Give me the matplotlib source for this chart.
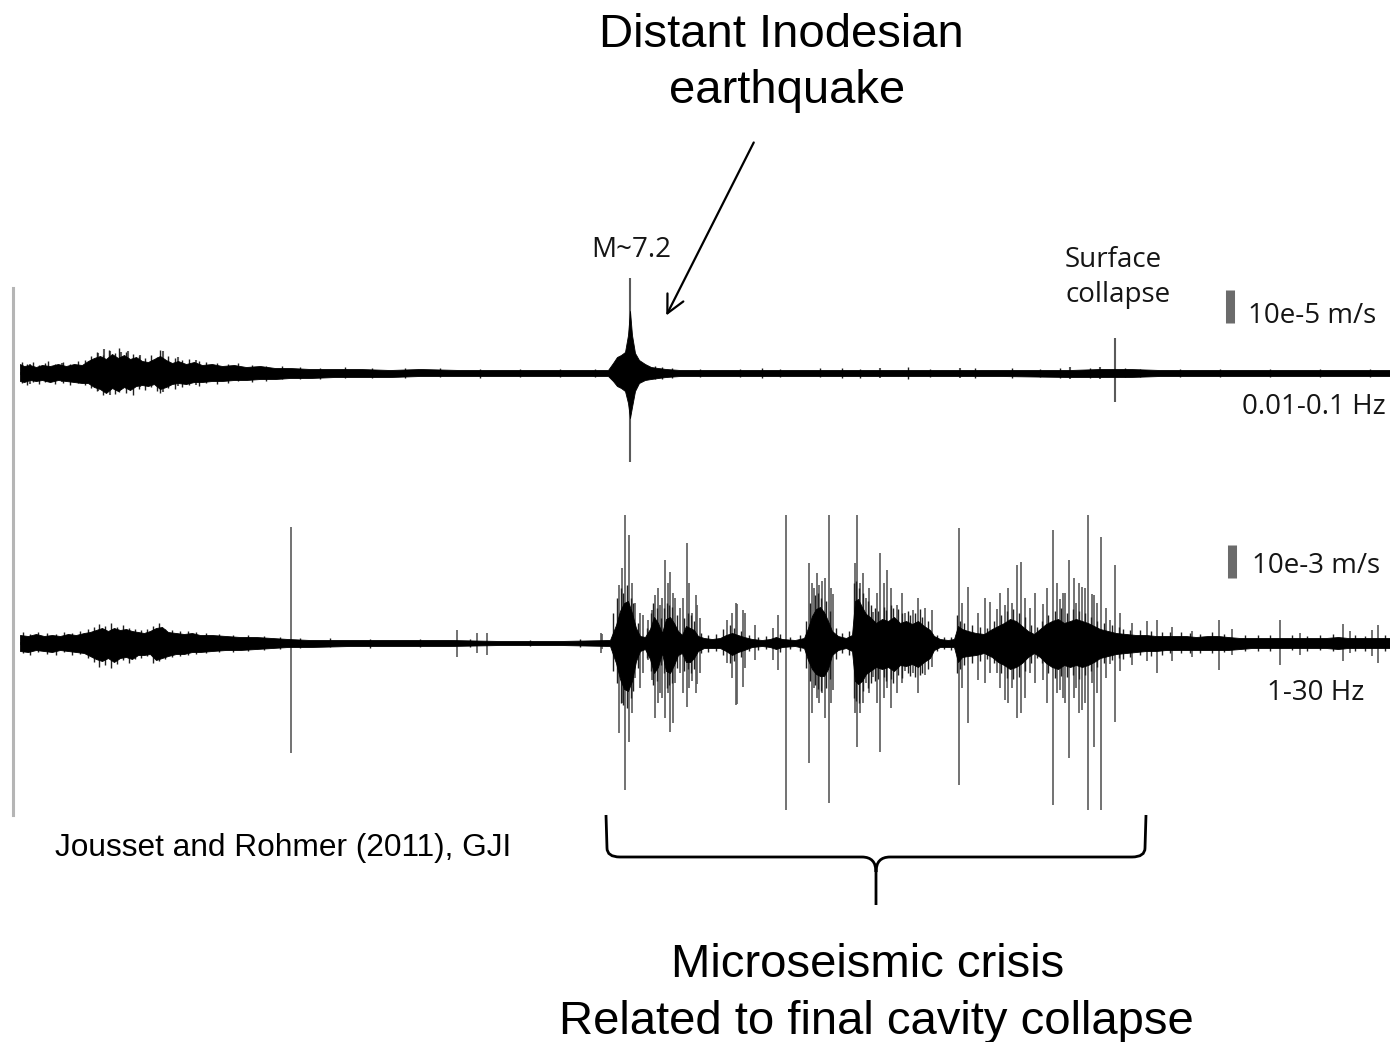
"""
Two-band seismogram (long period / short period) around the final cavity
collapse, with the teleseismic M~7.2 arrival and the microseismic crisis.
"""
import numpy as np
import matplotlib
matplotlib.use("Agg")
import matplotlib.pyplot as plt
from matplotlib.path import Path
from matplotlib.patches import PathPatch

W, H = 1390, 1042
BIG_FONT = ["Liberation Sans", "DejaVu Sans"]
SMALL_FONT = ["Open Sans", "DejaVu Sans"]
LABEL_COLOR = "#151515"
TRACE_GREY = "#5a5a5a"
BAR_GREY = "#6b6b6b"

# ---- 0.01-0.1 Hz band: envelope (t, up, down) in counts, events (t, up, down)
top_env = [
    (20, 9, 8), (24, 7, 9), (30, 8, 7), (36, 6, 8), (42, 8, 7), (50, 7, 9),
    (58, 9, 7), (66, 7, 8), (74, 9, 9), (82, 8, 10), (88, 12, 10), (94, 15, 14),
    (100, 17, 16), (106, 14, 20), (112, 19, 15), (118, 15, 18), (124, 18, 14),
    (130, 14, 17), (136, 16, 13), (142, 12, 12), (148, 11, 13), (154, 14, 11),
    (160, 17, 16), (166, 13, 14), (172, 10, 11), (178, 12, 10), (186, 9, 11),
    (194, 11, 9), (202, 8, 9), (212, 9, 8), (222, 7, 8), (234, 8, 7), (246, 6, 7),
    (260, 7, 6), (275, 5, 6), (290, 5, 5), (310, 4, 5), (335, 4, 4), (360, 4, 4),
    (390, 3, 4), (420, 4, 3), (460, 3, 3), (500, 3, 3), (540, 3, 3), (580, 3, 3),
    (608, 3, 3), (613, 10, 8), (617, 16, 13), (621, 18, 15), (625, 21, 18),
    (628, 38, 30), (630, 62, 45), (632, 38, 34), (635, 20, 18), (639, 13, 10),
    (645, 9, 7), (651, 6, 6), (658, 5, 5), (666, 4, 4), (680, 3, 3), (720, 3, 3),
    (800, 3, 3), (900, 3, 3), (1000, 3, 3), (1070, 3, 4), (1100, 4, 4),
    (1130, 4, 4), (1160, 3, 3), (1200, 3, 3), (1250, 3, 3), (1300, 3, 3),
    (1350, 3, 3), (1390, 3, 3),
]
top_spikes = [
    (630, 95, 89), (1115, 35, 29), (98, 20, 18), (104, 24, 16), (110, 22, 22),
    (121, 21, 17), (128, 22, 15), (140, 18, 14), (163, 22, 19), (178, 16, 13),
    (196, 13, 12), (30, 9, 11), (62, 10, 9), (1070, 6, 6), (1100, 6, 6),
    (960, 5, 5), (880, 5, 5),
]
top_texture = [
    (22, 11, 10), (27, 9, 12), (33, 11, 9), (39, 8, 11), (45, 10, 9), (48, 12, 8),
    (55, 9, 11), (63, 11, 10), (70, 9, 12), (78, 12, 10), (85, 13, 12),
    (91, 17, 15), (97, 21, 18), (103, 18, 22), (109, 23, 17), (115, 20, 21),
    (119, 25, 19), (126, 21, 20), (133, 19, 22), (139, 17, 16), (145, 15, 17),
    (151, 18, 14), (157, 16, 18), (160, 23, 20), (168, 17, 15), (175, 15, 16),
    (182, 13, 14), (189, 14, 12), (199, 12, 13), (206, 11, 10), (217, 10, 11),
    (228, 9, 10), (238, 10, 8), (252, 8, 9), (266, 7, 8), (282, 7, 6),
    (300, 6, 6), (320, 5, 6), (345, 6, 5), (372, 5, 5), (405, 5, 5), (440, 5, 4),
    (480, 4, 5), (520, 4, 4), (560, 4, 4), (595, 4, 4), (655, 7, 6), (662, 6, 6),
    (672, 5, 5), (700, 4, 4), (740, 4, 4), (762, 5, 5), (780, 4, 4), (820, 5, 4),
    (842, 5, 5), (860, 4, 5), (908, 6, 6), (930, 4, 4), (975, 5, 5), (1012, 5, 5),
    (1040, 4, 4), (1060, 5, 5), (1090, 5, 5), (1125, 5, 4), (1140, 4, 4),
    (1180, 4, 4), (1220, 4, 4), (1270, 4, 4), (1320, 4, 4), (1370, 4, 4),
]

# ---- 1-30 Hz band
bottom_env = [
    (20, 8, 8), (28, 7, 9), (36, 9, 7), (44, 7, 8), (52, 8, 9), (60, 7, 7),
    (68, 9, 8), (76, 8, 9), (84, 10, 10), (90, 11, 13), (96, 13, 16),
    (102, 15, 18), (108, 12, 15), (114, 15, 19), (120, 13, 15), (126, 14, 14),
    (132, 12, 16), (138, 11, 12), (144, 10, 12), (150, 12, 11), (156, 15, 17),
    (162, 16, 15), (168, 11, 13), (176, 10, 11), (184, 9, 11), (192, 10, 9),
    (200, 8, 9), (212, 8, 8), (226, 7, 7), (240, 6, 7), (256, 6, 6), (272, 5, 5),
    (288, 4, 4), (310, 3, 4), (350, 3, 3), (400, 3, 3), (450, 3, 3), (500, 2, 2),
    (560, 2, 2), (610, 3, 3),
    (616, 18, 20), (620, 32, 36), (624, 40, 46), (628, 42, 48), (632, 30, 38),
    (636, 15, 18), (640, 7, 8), (645, 6, 6), (650, 14, 16), (654, 26, 30),
    (658, 20, 24), (662, 10, 10), (666, 24, 28), (670, 26, 30), (674, 20, 22),
    (678, 12, 12), (682, 8, 10), (686, 17, 19), (690, 15, 19), (694, 13, 15),
    (698, 7, 8), (704, 5, 5), (712, 4, 5), (720, 5, 5), (726, 8, 8),
    (732, 10, 12), (738, 8, 9), (744, 6, 7), (752, 4, 4), (762, 3, 3),
    (770, 4, 4), (776, 6, 6), (782, 4, 4), (795, 3, 3), (804, 5, 5),
    (808, 15, 17), (812, 27, 26), (816, 34, 31), (820, 36, 33), (824, 31, 33),
    (828, 22, 26), (832, 12, 12), (838, 7, 7), (846, 5, 5), (852, 8, 8),
    (855, 42, 38), (858, 44, 41), (862, 36, 38), (866, 29, 31), (870, 26, 28),
    (876, 20, 24), (882, 24, 26), (888, 22, 24), (894, 26, 28), (900, 20, 22),
    (906, 22, 23), (912, 19, 21), (918, 22, 24), (924, 17, 19), (930, 13, 15),
    (934, 7, 7), (940, 4, 4), (948, 3, 4), (954, 4, 4), (958, 17, 19),
    (962, 14, 14), (968, 12, 13), (976, 10, 12), (984, 9, 10), (992, 14, 14),
    (998, 17, 19), (1004, 20, 22), (1010, 24, 26), (1016, 22, 24),
    (1022, 17, 20), (1028, 12, 14), (1034, 9, 10), (1040, 14, 14),
    (1046, 19, 20), (1052, 22, 24), (1058, 24, 26), (1064, 20, 22),
    (1070, 22, 24), (1076, 24, 22), (1082, 22, 24), (1088, 20, 22),
    (1094, 17, 19), (1100, 14, 15), (1108, 12, 13), (1116, 10, 11),
    (1126, 9, 10), (1136, 8, 9), (1146, 8, 8), (1156, 7, 8), (1166, 7, 7),
    (1176, 7, 7), (1186, 7, 7), (1196, 6, 7), (1208, 7, 7), (1218, 7, 7),
    (1228, 6, 7), (1240, 5, 6), (1252, 5, 5), (1264, 5, 5), (1276, 5, 5),
    (1288, 5, 5), (1300, 5, 5), (1314, 5, 5), (1326, 5, 5), (1338, 6, 6),
    (1348, 5, 5), (1360, 5, 5), (1372, 5, 5), (1390, 5, 5),
]
bottom_spikes = [
    (291, 116, 110), (457, 13, 14), (477, 10, 10), (487, 10, 12), (601, 10, 10),
    (619, 58, 90), (625, 128, 147), (629, 108, 99), (643, 28, 30), (655, 48, 75),
    (665, 83, 75), (670, 71, 89), (687, 100, 64), (696, 48, 50), (736, 40, 62),
    (745, 30, 25), (786, 128, 167), (809, 80, 120), (819, 58, 60),
    (829, 128, 160), (857, 128, 104), (880, 90, 109), (887, 73, 45),
    (959, 115, 142), (968, 56, 80), (1017, 78, 75), (1021, 81, 70),
    (1053, 113, 162), (1069, 83, 115), (1088, 128, 167), (1094, 48, 104),
    (1101, 106, 167), (1115, 78, 79), (1157, 23, 30), (1219, 23, 27),
    (1280, 23, 22), (1343, 19, 18), (1372, 13, 13), (1378, 18, 20),
    # smaller events inside the crisis
    (602, 9, 6), (635, 40, 35), (648, 23, 17), (652, 33, 37), (660, 38, 50),
    (675, 45, 40), (680, 35, 30), (692, 30, 38), (697, 38, 41), (727, 23, 20),
    (737, 39, 61), (743, 33, 44), (755, 18, 17), (773, 15, 17), (778, 28, 27),
    (814, 55, 45), (822, 62, 50), (833, 49, 47), (860, 60, 70), (866, 45, 40),
    (873, 31, 34), (897, 38, 50), (905, 30, 28), (913, 33, 30), (925, 35, 32),
    (932, 33, 24), (978, 30, 37), (990, 41, 30), (997, 34, 30), (1005, 38, 57),
    (1012, 40, 45), (1030, 35, 30), (1043, 39, 37), (1060, 44, 47),
    (1065, 50, 60), (1076, 40, 45), (1082, 56, 67), (1092, 49, 40),
    (1110, 23, 21), (1132, 20, 22), (1147, 22, 18), (1172, 16, 18),
    (1192, 12, 14), (1232, 14, 12), (1300, 10, 12), (1350, 12, 10),
    (622, 75, 60), (632, 60, 70), (640, 30, 45), (658, 55, 60), (662, 45, 55),
    (668, 60, 50), (673, 50, 80), (683, 45, 50), (689, 60, 45), (700, 25, 30),
    (732, 30, 35), (812, 60, 70), (817, 70, 55), (825, 65, 75), (831, 55, 60),
    (855, 80, 70), (863, 70, 60), (869, 55, 50), (877, 50, 60), (884, 60, 55),
    (891, 55, 65), (902, 50, 40), (918, 45, 50), (962, 40, 45), (985, 45, 40),
    (1000, 50, 45), (1008, 55, 60), (1025, 45, 55), (1035, 50, 40),
    (1047, 55, 60), (1057, 60, 50), (1063, 50, 55), (1074, 65, 55),
    (1079, 60, 70), (1085, 55, 60), (1097, 40, 50), (1106, 35, 35),
    (1120, 30, 28),
]
bottom_texture = [
    (23, 11, 10), (30, 9, 12), (38, 11, 9), (47, 10, 11), (56, 9, 12),
    (64, 11, 9), (72, 10, 12), (80, 12, 11), (88, 14, 15), (94, 16, 19),
    (99, 19, 24), (105, 17, 22), (111, 20, 25), (117, 16, 21), (123, 18, 17),
    (129, 15, 20), (135, 14, 16), (141, 13, 15), (147, 14, 13), (153, 17, 20),
    (159, 20, 18), (165, 14, 16), (172, 13, 14), (180, 12, 13), (188, 12, 12),
    (196, 11, 11), (206, 10, 10), (219, 9, 9), (233, 8, 9), (248, 8, 8),
    (264, 7, 7), (280, 6, 6), (300, 5, 5), (330, 5, 4), (370, 4, 5),
    (420, 4, 4), (470, 4, 4), (530, 3, 3), (580, 4, 4),
    (613, 30, 28), (617, 45, 40), (621, 55, 60), (623, 50, 62), (627, 58, 65),
    (631, 45, 55), (633, 40, 48), (638, 20, 25), (647, 15, 15), (651, 30, 28),
    (653, 40, 42), (657, 35, 38), (661, 25, 22), (664, 35, 30), (667, 40, 45),
    (669, 38, 42), (672, 36, 40), (677, 28, 25), (684, 25, 28), (688, 30, 26),
    (691, 28, 30), (694, 22, 26), (701, 10, 10), (708, 8, 9), (716, 9, 8),
    (723, 14, 12), (730, 18, 20), (734, 15, 18), (741, 12, 14), (749, 8, 8),
    (758, 6, 7), (766, 7, 6), (780, 9, 9), (790, 6, 6), (800, 8, 8),
    (806, 22, 25), (810, 40, 38), (815, 48, 42), (818, 50, 46), (821, 45, 48),
    (826, 42, 45), (830, 32, 36), (836, 15, 16), (842, 10, 10), (849, 12, 12),
    (854, 60, 55), (856, 62, 58), (859, 55, 60), (863, 50, 48), (868, 42, 45),
    (871, 38, 40), (875, 35, 38), (878, 32, 36), (884, 36, 34), (886, 33, 38),
    (891, 38, 36), (893, 35, 40), (898, 34, 32), (902, 30, 35), (908, 32, 30),
    (910, 28, 33), (915, 30, 34), (920, 34, 32), (922, 26, 30), (928, 22, 26),
    (937, 8, 8), (944, 6, 6), (951, 6, 7), (957, 28, 30), (960, 22, 26),
    (964, 20, 22), (972, 18, 20), (980, 16, 18), (987, 15, 16), (994, 22, 20),
    (1001, 28, 30), (1007, 32, 35), (1013, 34, 36), (1019, 30, 34),
    (1025, 26, 28), (1031, 18, 20), (1037, 16, 15), (1042, 22, 20),
    (1048, 28, 30), (1055, 32, 35), (1061, 35, 33), (1067, 30, 34),
    (1073, 34, 32), (1079, 32, 36), (1085, 30, 32), (1091, 26, 28),
    (1097, 22, 24), (1104, 20, 20), (1112, 18, 17), (1119, 16, 15),
    (1123, 14, 16), (1130, 13, 14), (1140, 13, 12), (1151, 12, 13),
    (1162, 11, 12), (1170, 11, 10), (1181, 11, 10), (1190, 10, 10),
    (1200, 9, 10), (1212, 11, 10), (1224, 9, 9), (1245, 8, 8), (1258, 8, 8),
    (1270, 8, 8), (1292, 8, 7), (1307, 7, 8), (1320, 8, 7), (1333, 9, 8),
    (1355, 8, 8), (1365, 7, 8), (1385, 8, 8),
]

SCALE_BAR_COUNTS = 33
T_START, T_END = 20, 1390


def trace_axes(fig, centre_px, height_px):
    """Axes spanning the figure width, 1 count = 1 px, zero line at centre_px."""
    bottom = 1 - (centre_px + height_px / 2) / H
    ax = fig.add_axes([0, bottom, 1, height_px / H])
    ax.set_xlim(0, W)
    ax.set_ylim(-height_px / 2, height_px / 2)
    ax.set_axis_off()
    return ax


def draw_trace(ax, env, spikes, texture, spike_lw=1.2):
    t, up, dn = np.array(env, dtype=float).T
    st, sup, sdn = np.array(spikes, dtype=float).T
    xt, xup, xdn = np.array(texture, dtype=float).T
    ax.vlines(st, -sdn, sup, colors=TRACE_GREY, lw=spike_lw, zorder=1)
    ax.vlines(xt, -xdn, xup, colors="#202020", lw=1.0, zorder=2)
    ax.fill_between(t, -dn, up, color="black", lw=0.6, zorder=3)
    ax.hlines(0, T_START, T_END, colors="black", lw=2.2, zorder=4)


fig = plt.figure(figsize=(W / 100, H / 100), dpi=100)

ax_top = trace_axes(fig, 373, 260)
draw_trace(ax_top, top_env, top_spikes, top_texture, spike_lw=1.5)
ax_top.vlines(1230, 50, 50 + SCALE_BAR_COUNTS, colors=BAR_GREY, lw=6.5)

ax_bot = trace_axes(fig, 643, 380)
draw_trace(ax_bot, bottom_env, bottom_spikes, bottom_texture)
ax_bot.vlines(1232, 65, 65 + SCALE_BAR_COUNTS, colors=BAR_GREY, lw=6.5)

# annotation layer in pixel coordinates
ov = fig.add_axes([0, 0, 1, 1], zorder=5)
ov.set_xlim(0, W)
ov.set_ylim(H, 0)
ov.set_axis_off()
ov.patch.set_alpha(0)

ov.plot([13, 13], [288, 815], color="#b5b5b5", lw=2.2)

ov.text(781, 47, "Distant Inodesian", ha="center", va="baseline",
        fontsize=34, family=BIG_FONT)
ov.text(787, 103, "earthquake", ha="center", va="baseline",
        fontsize=34, family=BIG_FONT)
ov.annotate("", xy=(665, 318), xytext=(755, 140),
            arrowprops=dict(arrowstyle="->", lw=1.6, color="black",
                            mutation_scale=32))

small = dict(va="baseline", fontsize=20, family=SMALL_FONT, color=LABEL_COLOR)
ov.text(631, 257, "M~7.2", ha="center", **small)
ov.text(1113, 267, "Surface", ha="center", **small)
ov.text(1118, 302, "collapse", ha="center", **small)
ov.text(1248, 323, "10e-5 m/s", ha="left", **small)
ov.text(1386, 414, "0.01-0.1 Hz", ha="right", **small)
ov.text(1252, 573, "10e-3 m/s", ha="left", **small)
ov.text(1364, 700, "1-30 Hz", ha="right", **small)

ov.text(55, 856, "Jousset and Rohmer (2011), GJI", ha="left", va="baseline",
        fontsize=22.8, family=BIG_FONT)

# curly brace under the crisis
brace = [
    (606, 815), (607, 848), (607, 857), (620, 857),
    (862, 857), (876, 857), (876, 872), (876, 905),
    (876, 872), (876, 857), (890, 857), (1132, 857),
    (1145, 857), (1145, 848), (1146, 815),
]
codes = [Path.MOVETO, Path.LINETO, Path.CURVE3, Path.CURVE3,
         Path.LINETO, Path.CURVE3, Path.CURVE3, Path.LINETO,
         Path.MOVETO, Path.CURVE3, Path.CURVE3, Path.LINETO,
         Path.CURVE3, Path.CURVE3, Path.LINETO]
ov.add_patch(PathPatch(Path(brace, codes), fill=False, lw=2, color="black"))

ov.text(868, 977, "Microseismic crisis", ha="center", va="baseline",
        fontsize=34, family=BIG_FONT)
ov.text(876, 1034, "Related to final cavity collapse", ha="center",
        va="baseline", fontsize=34, family=BIG_FONT)

fig.savefig("out.png", dpi=100, facecolor="white")
